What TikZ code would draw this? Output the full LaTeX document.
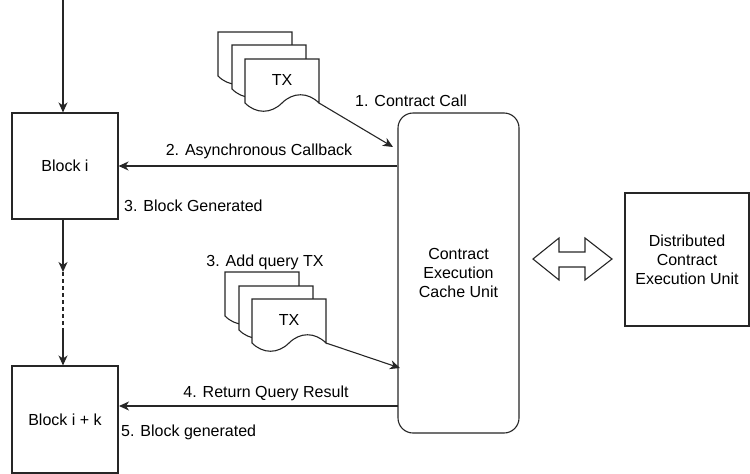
\documentclass[tikz,border=0pt]{standalone}
\usepackage{fontspec}
\setmainfont{Liberation Sans}
\usetikzlibrary{arrows.meta}
\tikzset{
  ln/.style={line width=1.1pt, draw=black!85},
  box/.style={ln, fill=white, inner sep=0pt, align=center, font=\fontsize{16}{19}\selectfont},
  lbl/.style={inner sep=0pt, font=\fontsize{16}{19}\selectfont},
  arr/.style={ln, -{Stealth[length=10pt,width=9pt,inset=3pt]}},
  docline/.style={ln, fill=white},
}
\newcommand{\txdoc}[1]{\filldraw[docline, shift={#1}] (0,0) -- (74,0) -- (74,44) .. controls (63,33) and (48,33) .. (37,44) .. controls (26,55) and (11,55) .. (0,44) -- cycle;}
\begin{document}
\begin{tikzpicture}[x=1pt,y=-1pt]
\useasboundingbox (0,0) rectangle (750,474);

% blocks
\node[box, minimum width=106pt, minimum height=106pt] (bi) at (65,166) {Block i};
\node[box, minimum width=106pt, minimum height=107pt] (bk) at (65,419.5) {Block i + k};
\node[box, rounded corners=15pt, minimum width=121pt, minimum height=320pt] (cache) at (458.5,273) {Contract\\Execution\\Cache Unit};
\node[box, minimum width=124pt, minimum height=133pt] (dist) at (687,259.5) {Distributed\\Contract\\Execution Unit};

% vertical chain
\coordinate (top) at (63,0);
\draw[arr] (top) -- (bi.north -| top);
\coordinate (m1) at (63,272);
\coordinate (m2) at (63,330);
\draw[arr] (bi.south -| top) -- (m1);
\draw[ln, dash pattern=on 4pt off 3pt] (m1) -- (m2);
\draw[arr] (m2) -- (bk.north -| top);

% top documents
\txdoc{(218,32)}
\txdoc{(232,45)}
\txdoc{(245,59)}
\node[lbl] (txa) at (282,80) {TX};
\coordinate (txaend) at (319,103);
\coordinate (c1) at (393,147);
\draw[arr] (txaend) -- (c1);
\node[lbl, anchor=west] (l1) at (355,101) {1. Contract Call};

% callback
\draw[arr] (cache.west |- bi.east) -- (bi.east);
\node[lbl] (l2) at (259,151) {2. Asynchronous Callback};
\node[lbl, anchor=west] (l3) at (124,206) {3. Block Generated};

% bottom documents
\txdoc{(225,272)}
\txdoc{(239,286)}
\txdoc{(252,299)}
\node[lbl] (txb) at (289,320) {TX};
\node[lbl] (l3b) at (265,262) {3. Add query TX};
\coordinate (txbend) at (326,343);
\coordinate (c3) at (400,368);
\draw[arr] (txbend) -- (c3);

% return query
\coordinate (r4s) at (398,406);
\coordinate (r4e) at (119,406);
\draw[arr] (r4s) -- (r4e);
\node[lbl] (l4) at (266,393) {4. Return Query Result};
\node[lbl, anchor=west] (l5) at (121,432) {5. Block generated};

% double arrow
\draw[ln, line join=miter] (533,259) -- (559,238) -- (559,252) -- (585,252) -- (585,238) -- (612,259) -- (585,280) -- (585,267) -- (559,267) -- (559,280) -- cycle;
\end{tikzpicture}
\end{document}
